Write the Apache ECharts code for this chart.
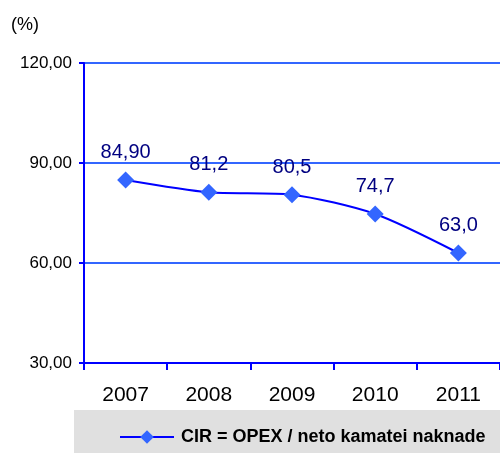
<!DOCTYPE html>
<html>
<head>
<meta charset="utf-8">
<script src="https://cdn.jsdelivr.net/npm/echarts@6/dist/echarts.min.js"></script>
<style>
  html, body {margin: 0; padding: 0; background: #fff;}
  #chart {width: 500px; height: 453px;}
</style>
</head>
<body>
<div id="chart"></div>
<script>
// chart data
var years = ['2007', '2008', '2009', '2010', '2011'];
var cir_values = [84.9, 81.2, 80.5, 74.7, 63.0];
var cir_labels = ['84,90', '81,2', '80,5', '74,7', '63,0'];
var series_name = 'CIR = OPEX / neto kamatei naknade';

var font = 'Liberation Sans, Arial, sans-serif';
var my_chart = echarts.init(document.getElementById('chart'), null, {renderer: 'canvas'});

var option = {
    animation: false,
    textStyle: {fontFamily: font},
    grid: {left: 84, top: 63, width: 426, height: 300},
    graphic: [
        {
            type: 'rect', left: 74, top: 410, z: -1,
            shape: {width: 440, height: 43},
            style: {fill: '#e0e0e0'}
        },
        {
            type: 'text', left: 11, top: 16,
            style: {text: '(%)', fontSize: 18, fill: '#000', fontFamily: font}
        }
    ],
    legend: {
        left: 114, top: 423,
        itemWidth: 54, itemHeight: 17, itemGap: 4,
        data: [{name: series_name}],
        textStyle: {fontSize: 18, fontWeight: 'bold', color: '#000', padding: [0, 0, 0, 2]}
    },
    xAxis: {
        type: 'category',
        data: years,
        boundaryGap: true,
        axisLine: {lineStyle: {color: '#0000ff', width: 2}},
        axisTick: {show: true, length: 7, inside: false, lineStyle: {color: '#0000ff', width: 2}},
        axisLabel: {color: '#000', fontSize: 21, margin: 22}
    },
    yAxis: {
        type: 'value',
        min: 30, max: 120, interval: 30,
        axisLine: {show: true, lineStyle: {color: '#0000ff', width: 2}},
        axisTick: {show: true, length: 5, lineStyle: {color: '#0000ff', width: 2}},
        splitLine: {lineStyle: {color: '#3366ff', width: 2}},
        axisLabel: {
            color: '#000', fontSize: 17, margin: 12,
            formatter: function (v) { return v.toFixed(2).replace('.', ','); }
        }
    },
    series: [{
        name: series_name,
        type: 'line',
        data: cir_values,
        smooth: 0.25,
        symbol: 'diamond',
        symbolSize: 17,
        itemStyle: {color: '#3366ff'},
        lineStyle: {color: '#0000ff', width: 2},
        label: {
            show: true, position: 'top', distance: 9,
            color: '#000080', fontSize: 20,
            formatter: function (p) { return cir_labels[p.dataIndex]; }
        }
    }]
};

my_chart.setOption(option);
</script>
</body>
</html>
